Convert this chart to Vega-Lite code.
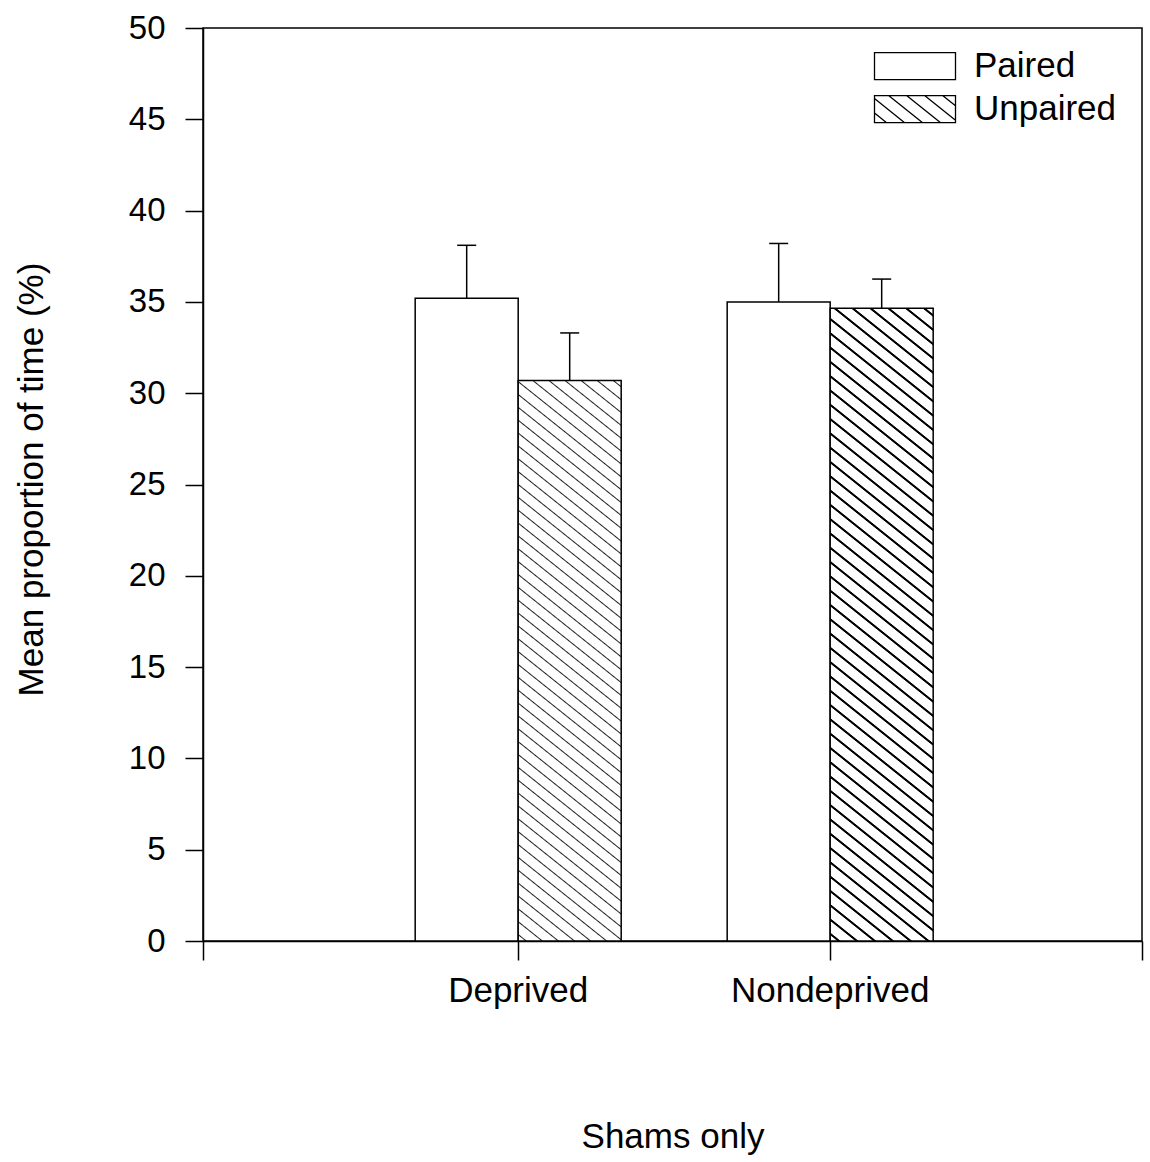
{
  "$schema": "https://vega.github.io/schema/vega-lite/v6.json",
  "width": 939,
  "height": 913,
  "autosize": {"type": "none"},
  "padding": {"left": 203, "top": 28, "right": 8, "bottom": 221},
  "background": "white",
  "config": {
    "font": "Liberation Sans",
    "view": {"stroke": "black", "strokeWidth": 1.5},
    "axis": {"domainColor": "black", "domainWidth": 1.5, "tickColor": "black", "tickWidth": 1.5, "labelColor": "black", "titleColor": "black", "labelFontSize": 35, "titleFontSize": 35, "titleFontWeight": "normal", "grid": false, "labelFont": "Liberation Sans", "titleFont": "Liberation Sans", "labelLimit": 0}
  },
  "data": {"values": [
    {"group": "Deprived", "condition": "Paired", "mean": 35.2, "upper": 38.1},
    {"group": "Deprived", "condition": "Unpaired", "mean": 30.7, "upper": 33.3},
    {"group": "Nondeprived", "condition": "Paired", "mean": 35.0, "upper": 38.2},
    {"group": "Nondeprived", "condition": "Unpaired", "mean": 34.65, "upper": 36.25}
  ]},
  "layer": [
    {
      "layer": [
        {
          "mark": {"type": "point", "filled": false, "color": "black", "strokeWidth": 1.3, "size": 729, "opacity": 1},
          "encoding": {
            "x": {"field": "group", "type": "nominal", "sort": ["Deprived", "Nondeprived"],
              "scale": {"type": "band", "domain": ["Deprived", "Nondeprived"], "paddingInner": 0.3397, "paddingOuter": 0.6747, "align": 0.504},
              "axis": {"orient": "bottom", "title": "Shams only", "labelAngle": 0, "labelAlign": "center", "labelBaseline": "top", "tickSize": 19, "labelPadding": 13, "bandPosition": 0.5, "titleBaseline": "alphabetic", "titleY": 206, "labelLimit": 0}},
            "xOffset": {"field": "condition", "type": "nominal", "scale": {"domain": ["Paired", "Unpaired"], "paddingInner": 0, "paddingOuter": 0}},
            "y": {"datum": 10, "type": "quantitative"},
            "shape": {"field": "condition", "type": "nominal",
              "scale": {"domain": ["Paired", "Unpaired"], "range": ["M-3,-1H3V1H-3Z", "M-3,-1H3V1H-3Z M-3,0.28L-2.1,1 M-3,-0.787L-0.767,1 M-1.933,-1L0.567,1 M-0.6,-1L1.9,1 M0.733,-1L3,0.813 M2.067,-1L3,-0.253"]},
              "legend": {"orient": "none", "legendX": 694.5, "legendY": 20.7, "title": null, "padding": 0,
                "symbolSize": 729, "symbolStrokeColor": "black", "symbolStrokeWidth": 1.3,
                "labelFontSize": 35, "labelColor": "black", "labelOffset": 41.5, "rowPadding": 7}}
          }
        },
        {
          "mark": {"type": "bar", "stroke": "black", "strokeWidth": 1.5},
          "encoding": {
            "x": {"field": "group", "type": "nominal", "sort": ["Deprived", "Nondeprived"],
              "scale": {"type": "band", "domain": ["Deprived", "Nondeprived"], "paddingInner": 0.3397, "paddingOuter": 0.6747, "align": 0.504},
              "axis": {"orient": "bottom", "title": "Shams only", "labelAngle": 0, "labelAlign": "center", "labelBaseline": "top", "tickSize": 19, "labelPadding": 13, "bandPosition": 0.5, "titleBaseline": "alphabetic", "titleY": 206, "labelLimit": 0}},
            "xOffset": {"field": "condition", "type": "nominal", "scale": {"domain": ["Paired", "Unpaired"], "paddingInner": 0, "paddingOuter": 0}},
            "y": {"field": "mean", "type": "quantitative",
              "scale": {"domain": [0, 50], "nice": false, "zero": true},
              "axis": {"values": [0, 5, 10, 15, 20, 25, 30, 35, 40, 45, 50], "tickSize": 18, "labelPadding": 20, "labelFontSize": 33, "title": "Mean proportion of time (%)", "titleX": -161, "titleY": 451, "titleBaseline": "alphabetic", "titleAngle": 270}},
            "fill": {
              "condition": [
                {"test": "datum.group === 'Deprived' && datum.condition === 'Unpaired'", "value": {"gradient": "linear", "x1": 0, "y1": 1, "x2": 0.1649, "y2": -0.1227, "stops": [
                  {"offset": 0.008, "color": "#fff"}, {"offset": 0.01, "color": "#222"}, {"offset": 0.012, "color": "#fff"},
                  {"offset": 0.028, "color": "#fff"}, {"offset": 0.03, "color": "#222"}, {"offset": 0.032, "color": "#fff"},
                  {"offset": 0.048, "color": "#fff"}, {"offset": 0.05, "color": "#222"}, {"offset": 0.052, "color": "#fff"},
                  {"offset": 0.068, "color": "#fff"}, {"offset": 0.07, "color": "#222"}, {"offset": 0.072, "color": "#fff"},
                  {"offset": 0.088, "color": "#fff"}, {"offset": 0.09, "color": "#222"}, {"offset": 0.092, "color": "#fff"},
                  {"offset": 0.108, "color": "#fff"}, {"offset": 0.11, "color": "#222"}, {"offset": 0.112, "color": "#fff"},
                  {"offset": 0.128, "color": "#fff"}, {"offset": 0.13, "color": "#222"}, {"offset": 0.132, "color": "#fff"},
                  {"offset": 0.148, "color": "#fff"}, {"offset": 0.15, "color": "#222"}, {"offset": 0.152, "color": "#fff"},
                  {"offset": 0.168, "color": "#fff"}, {"offset": 0.17, "color": "#222"}, {"offset": 0.172, "color": "#fff"},
                  {"offset": 0.188, "color": "#fff"}, {"offset": 0.19, "color": "#222"}, {"offset": 0.192, "color": "#fff"},
                  {"offset": 0.208, "color": "#fff"}, {"offset": 0.21, "color": "#222"}, {"offset": 0.212, "color": "#fff"},
                  {"offset": 0.228, "color": "#fff"}, {"offset": 0.23, "color": "#222"}, {"offset": 0.232, "color": "#fff"},
                  {"offset": 0.248, "color": "#fff"}, {"offset": 0.25, "color": "#222"}, {"offset": 0.252, "color": "#fff"},
                  {"offset": 0.268, "color": "#fff"}, {"offset": 0.27, "color": "#222"}, {"offset": 0.272, "color": "#fff"},
                  {"offset": 0.288, "color": "#fff"}, {"offset": 0.29, "color": "#222"}, {"offset": 0.292, "color": "#fff"},
                  {"offset": 0.308, "color": "#fff"}, {"offset": 0.31, "color": "#222"}, {"offset": 0.312, "color": "#fff"},
                  {"offset": 0.328, "color": "#fff"}, {"offset": 0.33, "color": "#222"}, {"offset": 0.332, "color": "#fff"},
                  {"offset": 0.348, "color": "#fff"}, {"offset": 0.35, "color": "#222"}, {"offset": 0.352, "color": "#fff"},
                  {"offset": 0.368, "color": "#fff"}, {"offset": 0.37, "color": "#222"}, {"offset": 0.372, "color": "#fff"},
                  {"offset": 0.388, "color": "#fff"}, {"offset": 0.39, "color": "#222"}, {"offset": 0.392, "color": "#fff"},
                  {"offset": 0.408, "color": "#fff"}, {"offset": 0.41, "color": "#222"}, {"offset": 0.412, "color": "#fff"},
                  {"offset": 0.428, "color": "#fff"}, {"offset": 0.43, "color": "#222"}, {"offset": 0.432, "color": "#fff"},
                  {"offset": 0.448, "color": "#fff"}, {"offset": 0.45, "color": "#222"}, {"offset": 0.452, "color": "#fff"},
                  {"offset": 0.468, "color": "#fff"}, {"offset": 0.47, "color": "#222"}, {"offset": 0.472, "color": "#fff"},
                  {"offset": 0.488, "color": "#fff"}, {"offset": 0.49, "color": "#222"}, {"offset": 0.492, "color": "#fff"},
                  {"offset": 0.508, "color": "#fff"}, {"offset": 0.51, "color": "#222"}, {"offset": 0.512, "color": "#fff"},
                  {"offset": 0.528, "color": "#fff"}, {"offset": 0.53, "color": "#222"}, {"offset": 0.532, "color": "#fff"},
                  {"offset": 0.548, "color": "#fff"}, {"offset": 0.55, "color": "#222"}, {"offset": 0.552, "color": "#fff"},
                  {"offset": 0.568, "color": "#fff"}, {"offset": 0.57, "color": "#222"}, {"offset": 0.572, "color": "#fff"},
                  {"offset": 0.588, "color": "#fff"}, {"offset": 0.59, "color": "#222"}, {"offset": 0.592, "color": "#fff"},
                  {"offset": 0.608, "color": "#fff"}, {"offset": 0.61, "color": "#222"}, {"offset": 0.612, "color": "#fff"},
                  {"offset": 0.628, "color": "#fff"}, {"offset": 0.63, "color": "#222"}, {"offset": 0.632, "color": "#fff"},
                  {"offset": 0.648, "color": "#fff"}, {"offset": 0.65, "color": "#222"}, {"offset": 0.652, "color": "#fff"},
                  {"offset": 0.668, "color": "#fff"}, {"offset": 0.67, "color": "#222"}, {"offset": 0.672, "color": "#fff"},
                  {"offset": 0.688, "color": "#fff"}, {"offset": 0.69, "color": "#222"}, {"offset": 0.692, "color": "#fff"},
                  {"offset": 0.708, "color": "#fff"}, {"offset": 0.71, "color": "#222"}, {"offset": 0.712, "color": "#fff"},
                  {"offset": 0.728, "color": "#fff"}, {"offset": 0.73, "color": "#222"}, {"offset": 0.732, "color": "#fff"},
                  {"offset": 0.748, "color": "#fff"}, {"offset": 0.75, "color": "#222"}, {"offset": 0.752, "color": "#fff"},
                  {"offset": 0.768, "color": "#fff"}, {"offset": 0.77, "color": "#222"}, {"offset": 0.772, "color": "#fff"},
                  {"offset": 0.788, "color": "#fff"}, {"offset": 0.79, "color": "#222"}, {"offset": 0.792, "color": "#fff"},
                  {"offset": 0.808, "color": "#fff"}, {"offset": 0.81, "color": "#222"}, {"offset": 0.812, "color": "#fff"},
                  {"offset": 0.828, "color": "#fff"}, {"offset": 0.83, "color": "#222"}, {"offset": 0.832, "color": "#fff"},
                  {"offset": 0.848, "color": "#fff"}, {"offset": 0.85, "color": "#222"}, {"offset": 0.852, "color": "#fff"},
                  {"offset": 0.868, "color": "#fff"}, {"offset": 0.87, "color": "#222"}, {"offset": 0.872, "color": "#fff"},
                  {"offset": 0.888, "color": "#fff"}, {"offset": 0.89, "color": "#222"}, {"offset": 0.892, "color": "#fff"},
                  {"offset": 0.908, "color": "#fff"}, {"offset": 0.91, "color": "#222"}, {"offset": 0.912, "color": "#fff"},
                  {"offset": 0.928, "color": "#fff"}, {"offset": 0.93, "color": "#222"}, {"offset": 0.932, "color": "#fff"},
                  {"offset": 0.948, "color": "#fff"}, {"offset": 0.95, "color": "#222"}, {"offset": 0.952, "color": "#fff"},
                  {"offset": 0.968, "color": "#fff"}, {"offset": 0.97, "color": "#222"}, {"offset": 0.972, "color": "#fff"},
                  {"offset": 0.988, "color": "#fff"}, {"offset": 0.99, "color": "#222"}, {"offset": 0.992, "color": "#fff"}
                ]}},
                {"test": "datum.group === 'Nondeprived' && datum.condition === 'Unpaired'", "value": {"gradient": "linear", "x1": 0, "y1": 1, "x2": 0.1447, "y2": -0.1112, "stops": [
                  {"offset": 0.0075, "color": "#fff"}, {"offset": 0.0088, "color": "#000"}, {"offset": 0.0112, "color": "#000"}, {"offset": 0.0125, "color": "#fff"},
                  {"offset": 0.0275, "color": "#fff"}, {"offset": 0.0288, "color": "#000"}, {"offset": 0.0312, "color": "#000"}, {"offset": 0.0325, "color": "#fff"},
                  {"offset": 0.0475, "color": "#fff"}, {"offset": 0.0488, "color": "#000"}, {"offset": 0.0512, "color": "#000"}, {"offset": 0.0525, "color": "#fff"},
                  {"offset": 0.0675, "color": "#fff"}, {"offset": 0.0688, "color": "#000"}, {"offset": 0.0712, "color": "#000"}, {"offset": 0.0725, "color": "#fff"},
                  {"offset": 0.0875, "color": "#fff"}, {"offset": 0.0888, "color": "#000"}, {"offset": 0.0912, "color": "#000"}, {"offset": 0.0925, "color": "#fff"},
                  {"offset": 0.1075, "color": "#fff"}, {"offset": 0.1088, "color": "#000"}, {"offset": 0.1112, "color": "#000"}, {"offset": 0.1125, "color": "#fff"},
                  {"offset": 0.1275, "color": "#fff"}, {"offset": 0.1288, "color": "#000"}, {"offset": 0.1312, "color": "#000"}, {"offset": 0.1325, "color": "#fff"},
                  {"offset": 0.1475, "color": "#fff"}, {"offset": 0.1488, "color": "#000"}, {"offset": 0.1512, "color": "#000"}, {"offset": 0.1525, "color": "#fff"},
                  {"offset": 0.1675, "color": "#fff"}, {"offset": 0.1688, "color": "#000"}, {"offset": 0.1712, "color": "#000"}, {"offset": 0.1725, "color": "#fff"},
                  {"offset": 0.1875, "color": "#fff"}, {"offset": 0.1888, "color": "#000"}, {"offset": 0.1912, "color": "#000"}, {"offset": 0.1925, "color": "#fff"},
                  {"offset": 0.2075, "color": "#fff"}, {"offset": 0.2088, "color": "#000"}, {"offset": 0.2112, "color": "#000"}, {"offset": 0.2125, "color": "#fff"},
                  {"offset": 0.2275, "color": "#fff"}, {"offset": 0.2288, "color": "#000"}, {"offset": 0.2312, "color": "#000"}, {"offset": 0.2325, "color": "#fff"},
                  {"offset": 0.2475, "color": "#fff"}, {"offset": 0.2488, "color": "#000"}, {"offset": 0.2512, "color": "#000"}, {"offset": 0.2525, "color": "#fff"},
                  {"offset": 0.2675, "color": "#fff"}, {"offset": 0.2688, "color": "#000"}, {"offset": 0.2712, "color": "#000"}, {"offset": 0.2725, "color": "#fff"},
                  {"offset": 0.2875, "color": "#fff"}, {"offset": 0.2888, "color": "#000"}, {"offset": 0.2912, "color": "#000"}, {"offset": 0.2925, "color": "#fff"},
                  {"offset": 0.3075, "color": "#fff"}, {"offset": 0.3088, "color": "#000"}, {"offset": 0.3112, "color": "#000"}, {"offset": 0.3125, "color": "#fff"},
                  {"offset": 0.3275, "color": "#fff"}, {"offset": 0.3288, "color": "#000"}, {"offset": 0.3312, "color": "#000"}, {"offset": 0.3325, "color": "#fff"},
                  {"offset": 0.3475, "color": "#fff"}, {"offset": 0.3488, "color": "#000"}, {"offset": 0.3512, "color": "#000"}, {"offset": 0.3525, "color": "#fff"},
                  {"offset": 0.3675, "color": "#fff"}, {"offset": 0.3688, "color": "#000"}, {"offset": 0.3712, "color": "#000"}, {"offset": 0.3725, "color": "#fff"},
                  {"offset": 0.3875, "color": "#fff"}, {"offset": 0.3888, "color": "#000"}, {"offset": 0.3912, "color": "#000"}, {"offset": 0.3925, "color": "#fff"},
                  {"offset": 0.4075, "color": "#fff"}, {"offset": 0.4088, "color": "#000"}, {"offset": 0.4112, "color": "#000"}, {"offset": 0.4125, "color": "#fff"},
                  {"offset": 0.4275, "color": "#fff"}, {"offset": 0.4288, "color": "#000"}, {"offset": 0.4312, "color": "#000"}, {"offset": 0.4325, "color": "#fff"},
                  {"offset": 0.4475, "color": "#fff"}, {"offset": 0.4488, "color": "#000"}, {"offset": 0.4512, "color": "#000"}, {"offset": 0.4525, "color": "#fff"},
                  {"offset": 0.4675, "color": "#fff"}, {"offset": 0.4688, "color": "#000"}, {"offset": 0.4712, "color": "#000"}, {"offset": 0.4725, "color": "#fff"},
                  {"offset": 0.4875, "color": "#fff"}, {"offset": 0.4888, "color": "#000"}, {"offset": 0.4912, "color": "#000"}, {"offset": 0.4925, "color": "#fff"},
                  {"offset": 0.5075, "color": "#fff"}, {"offset": 0.5088, "color": "#000"}, {"offset": 0.5112, "color": "#000"}, {"offset": 0.5125, "color": "#fff"},
                  {"offset": 0.5275, "color": "#fff"}, {"offset": 0.5288, "color": "#000"}, {"offset": 0.5312, "color": "#000"}, {"offset": 0.5325, "color": "#fff"},
                  {"offset": 0.5475, "color": "#fff"}, {"offset": 0.5488, "color": "#000"}, {"offset": 0.5512, "color": "#000"}, {"offset": 0.5525, "color": "#fff"},
                  {"offset": 0.5675, "color": "#fff"}, {"offset": 0.5688, "color": "#000"}, {"offset": 0.5712, "color": "#000"}, {"offset": 0.5725, "color": "#fff"},
                  {"offset": 0.5875, "color": "#fff"}, {"offset": 0.5888, "color": "#000"}, {"offset": 0.5912, "color": "#000"}, {"offset": 0.5925, "color": "#fff"},
                  {"offset": 0.6075, "color": "#fff"}, {"offset": 0.6088, "color": "#000"}, {"offset": 0.6112, "color": "#000"}, {"offset": 0.6125, "color": "#fff"},
                  {"offset": 0.6275, "color": "#fff"}, {"offset": 0.6288, "color": "#000"}, {"offset": 0.6312, "color": "#000"}, {"offset": 0.6325, "color": "#fff"},
                  {"offset": 0.6475, "color": "#fff"}, {"offset": 0.6488, "color": "#000"}, {"offset": 0.6512, "color": "#000"}, {"offset": 0.6525, "color": "#fff"},
                  {"offset": 0.6675, "color": "#fff"}, {"offset": 0.6688, "color": "#000"}, {"offset": 0.6712, "color": "#000"}, {"offset": 0.6725, "color": "#fff"},
                  {"offset": 0.6875, "color": "#fff"}, {"offset": 0.6888, "color": "#000"}, {"offset": 0.6912, "color": "#000"}, {"offset": 0.6925, "color": "#fff"},
                  {"offset": 0.7075, "color": "#fff"}, {"offset": 0.7088, "color": "#000"}, {"offset": 0.7112, "color": "#000"}, {"offset": 0.7125, "color": "#fff"},
                  {"offset": 0.7275, "color": "#fff"}, {"offset": 0.7288, "color": "#000"}, {"offset": 0.7312, "color": "#000"}, {"offset": 0.7325, "color": "#fff"},
                  {"offset": 0.7475, "color": "#fff"}, {"offset": 0.7488, "color": "#000"}, {"offset": 0.7512, "color": "#000"}, {"offset": 0.7525, "color": "#fff"},
                  {"offset": 0.7675, "color": "#fff"}, {"offset": 0.7688, "color": "#000"}, {"offset": 0.7712, "color": "#000"}, {"offset": 0.7725, "color": "#fff"},
                  {"offset": 0.7875, "color": "#fff"}, {"offset": 0.7888, "color": "#000"}, {"offset": 0.7912, "color": "#000"}, {"offset": 0.7925, "color": "#fff"},
                  {"offset": 0.8075, "color": "#fff"}, {"offset": 0.8088, "color": "#000"}, {"offset": 0.8112, "color": "#000"}, {"offset": 0.8125, "color": "#fff"},
                  {"offset": 0.8275, "color": "#fff"}, {"offset": 0.8288, "color": "#000"}, {"offset": 0.8312, "color": "#000"}, {"offset": 0.8325, "color": "#fff"},
                  {"offset": 0.8475, "color": "#fff"}, {"offset": 0.8488, "color": "#000"}, {"offset": 0.8512, "color": "#000"}, {"offset": 0.8525, "color": "#fff"},
                  {"offset": 0.8675, "color": "#fff"}, {"offset": 0.8688, "color": "#000"}, {"offset": 0.8712, "color": "#000"}, {"offset": 0.8725, "color": "#fff"},
                  {"offset": 0.8875, "color": "#fff"}, {"offset": 0.8888, "color": "#000"}, {"offset": 0.8912, "color": "#000"}, {"offset": 0.8925, "color": "#fff"},
                  {"offset": 0.9075, "color": "#fff"}, {"offset": 0.9088, "color": "#000"}, {"offset": 0.9112, "color": "#000"}, {"offset": 0.9125, "color": "#fff"},
                  {"offset": 0.9275, "color": "#fff"}, {"offset": 0.9288, "color": "#000"}, {"offset": 0.9312, "color": "#000"}, {"offset": 0.9325, "color": "#fff"},
                  {"offset": 0.9475, "color": "#fff"}, {"offset": 0.9488, "color": "#000"}, {"offset": 0.9512, "color": "#000"}, {"offset": 0.9525, "color": "#fff"},
                  {"offset": 0.9675, "color": "#fff"}, {"offset": 0.9688, "color": "#000"}, {"offset": 0.9712, "color": "#000"}, {"offset": 0.9725, "color": "#fff"},
                  {"offset": 0.9875, "color": "#fff"}, {"offset": 0.9888, "color": "#000"}, {"offset": 0.9912, "color": "#000"}, {"offset": 0.9925, "color": "#fff"}
                ]}}
              ],
              "value": "white"
            }
          }
        },
        {
          "mark": {"type": "rule", "stroke": "black", "strokeWidth": 1.5},
          "encoding": {
            "x": {"field": "group", "type": "nominal"},
            "xOffset": {"field": "condition", "type": "nominal"},
            "y": {"field": "mean", "type": "quantitative"},
            "y2": {"field": "upper"}
          }
        },
        {
          "mark": {"type": "tick", "color": "black", "thickness": 1.5, "size": 19, "opacity": 1},
          "encoding": {
            "x": {"field": "group", "type": "nominal"},
            "xOffset": {"field": "condition", "type": "nominal"},
            "y": {"field": "upper", "type": "quantitative"}
          }
        }
      ]
    },
    {
      "mark": {"type": "rule", "strokeOpacity": 0},
      "encoding": {
        "x": {"datum": 0, "type": "quantitative", "scale": {"domain": [0, 1], "nice": false, "zero": false},
          "axis": {"orient": "bottom", "values": [0, 1], "labels": false, "domain": false, "title": null, "grid": false, "tickSize": 19, "tickWidth": 1.5, "tickColor": "black"}}
      }
    }
  ],
  "resolve": {"scale": {"x": "independent"}, "axis": {"x": "independent"}}
}
